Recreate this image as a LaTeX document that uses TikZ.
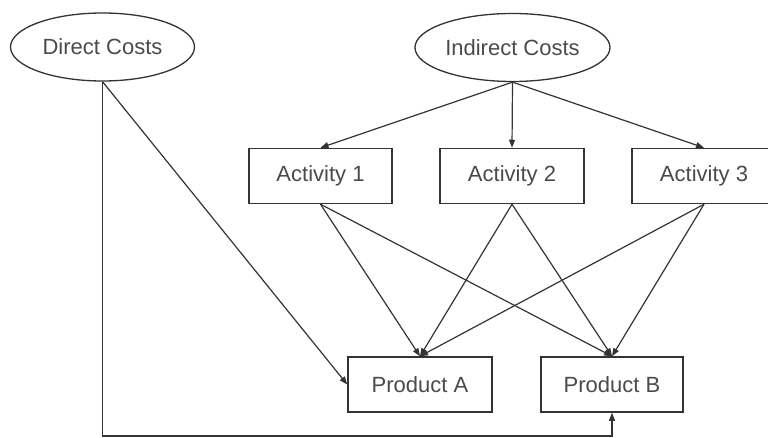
\documentclass[tikz,border=0pt]{standalone}
\usepackage{fontspec}
\setmainfont{Liberation Sans}
\usetikzlibrary{shapes.geometric,arrows.meta}
\definecolor{ink}{HTML}{333333}
\definecolor{txt}{HTML}{4A4A4A}
\begin{document}
\begin{tikzpicture}[x=1pt,y=-1pt,
  every node/.style={font=\fontsize{22}{25}\selectfont, text=txt, inner sep=0pt},
  costnode/.style={ellipse, draw=ink, line width=1.3pt, minimum height=68pt},
  boxnode/.style={rectangle, draw=ink, line width=1.5pt, minimum width=144pt, minimum height=55pt},
  flow/.style={draw=ink, line width=1.2pt, -{Triangle[length=8pt,width=6pt]}}]
\useasboundingbox (0,0) rectangle (768,438);
% cost pools
\node[costnode, minimum width=184pt] (dc) at (102.5,47) {Direct Costs};
\node[costnode, minimum width=195pt] (ic) at (512.5,47.5) {Indirect Costs};
% activities
\node[boxnode, minimum width=143pt] (a1) at (320.5,176) {Activity 1};
\node[boxnode] (a2) at (512,176) {Activity 2};
\node[boxnode] (a3) at (704,176) {Activity 3};
% products
\node[boxnode] (pa) at (420,384.5) {Product A};
\node[boxnode, minimum width=142pt] (pb) at (612,384.5) {Product B};
\coordinate (corner) at (102.5,436);
% indirect costs to activities
\draw[flow] (ic.south) -- (a1.north);
\draw[flow] (ic.south) -- (a2.north);
\draw[flow] (ic.south) -- (a3.north);
% activities to products
\foreach \a in {a1,a2,a3}{
  \draw[flow] (\a.south) -- (pa.north);
  \draw[flow] (\a.south) -- (pb.north);
}
% direct costs
\draw[flow] (dc.south) -- (pa.west);
\draw[flow] (dc.south) -- (corner) -| (pb.south);
\end{tikzpicture}
\end{document}
